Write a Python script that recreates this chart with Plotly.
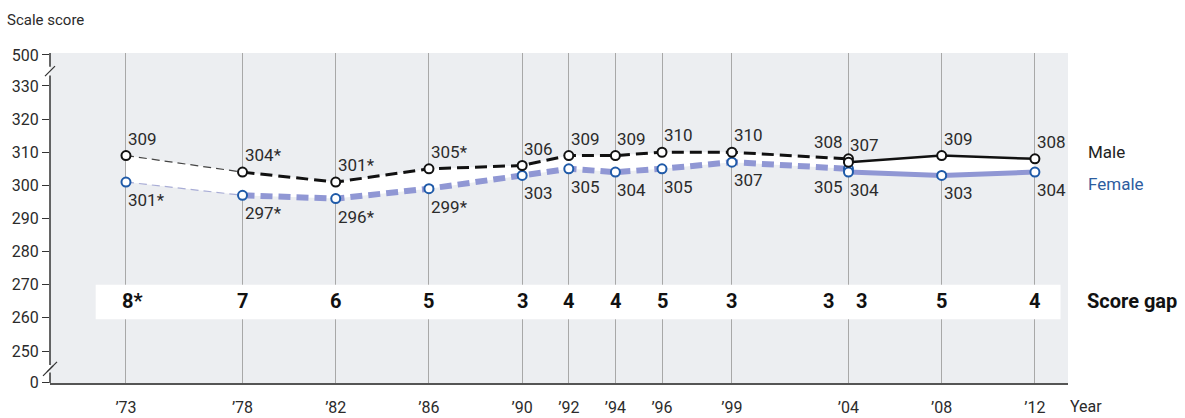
import plotly.graph_objects as go

# ---------------- data ----------------
years = [1973, 1978, 1982, 1986, 1990, 1992, 1994, 1996, 1999, 2004, 2004, 2008, 2012]
male = [309, 304, 301, 305, 306, 309, 309, 310, 310, 308, 307, 309, 308]
female = [301, 297, 296, 299, 303, 305, 304, 305, 307, 305, 304, 303, 304]
male_labels = ["309", "304*", "301*", "305*", "306", "309", "309", "310", "310", "308", "307", "309", "308"]
female_labels = ["301*", "297*", "296*", "299*", "303", "305", "304", "305", "307", "305", "304", "303", "304"]
gap_labels = ["8*", "7", "6", "5", "3", "4", "4", "5", "3", "3", "3", "5", "4"]
tick_years = [1973, 1978, 1982, 1986, 1990, 1992, 1994, 1996, 1999, 2004, 2008, 2012]
tick_year_text = ["’73", "’78", "’82", "’86", "’90", "’92", "’94", "’96", "’99", "’04", "’08", "’12"]
y_tick_text = ["0", "250", "260", "270", "280", "290", "300", "310", "320", "330", "500"]
y_tick_vals = [240.4, 250, 260, 270, 280, 290, 300, 310, 320, 330, 339.36]

FONT = "Roboto, Liberation Sans, sans-serif"
TXT = "#2b2b2b"
MALE_C = "#111111"
FEM_LINE = "#9097d4"
FEM_MK = "#1f5aa8"
FEM_TXT = "#2d5d9f"
BG = "#eceef1"

fig = go.Figure()

# white fill between the lines
fig.add_trace(go.Scatter(x=years, y=male, mode="lines", line=dict(width=0, color="rgba(0,0,0,0)"),
                         hoverinfo="skip", showlegend=False))
fig.add_trace(go.Scatter(x=years, y=female, mode="lines", line=dict(width=0, color="rgba(0,0,0,0)"),
                         fill="tonexty", fillcolor="white", hoverinfo="skip", showlegend=False))

# segments: 0-1 thin dashed, 1-9 thick dashed, 10-12 solid
segs = [(0, 2), (1, 10), (10, 13)]
fem_styles = [dict(color="#a9add6", width=1.2, dash="8px,5px"),
              dict(color=FEM_LINE, width=6, dash="12px,6px"),
              dict(color=FEM_LINE, width=5)]
male_styles = [dict(color="#444444", width=1.2, dash="8px,5px"),
               dict(color=MALE_C, width=3, dash="12px,6px"),
               dict(color=MALE_C, width=2.5)]
for (a, b), st in zip(segs, fem_styles):
    fig.add_trace(go.Scatter(x=years[a:b], y=female[a:b], mode="lines", line=st,
                             hoverinfo="skip", showlegend=False))
for (a, b), st in zip(segs, male_styles):
    fig.add_trace(go.Scatter(x=years[a:b], y=male[a:b], mode="lines", line=st,
                             hoverinfo="skip", showlegend=False))

# markers
fig.add_trace(go.Scatter(x=years, y=female, mode="markers",
                         marker=dict(size=9, color="white", line=dict(color=FEM_MK, width=2)),
                         showlegend=False))
fig.add_trace(go.Scatter(x=years, y=male, mode="markers",
                         marker=dict(size=9, color="white", line=dict(color=MALE_C, width=2)),
                         showlegend=False))

ann = []
for i, (x, m, f) in enumerate(zip(years, male, female)):
    left = (i == 9)
    ann.append(dict(x=x, y=m, xref="x", yref="y", text=male_labels[i], showarrow=False,
                    xanchor="right" if left else "left", yanchor="bottom",
                    xshift=-3 if left else 0, yshift=5,
                    font=dict(family=FONT, size=17, color=TXT)))
    ann.append(dict(x=x, y=f, xref="x", yref="y", text=female_labels[i], showarrow=False,
                    xanchor="right" if left else "left", yanchor="top",
                    xshift=-3 if left else 0, yshift=-6,
                    font=dict(family=FONT, size=17, color=TXT)))
    # score gap
    if i == 9:
        xa, xs = "center", -20
    elif i == 10:
        xa, xs = "center", 13
    elif gap_labels[i].endswith("*"):
        xa, xs = "left", -6
    else:
        xa, xs = "center", 0
    ann.append(dict(x=x, y=265, xref="x", yref="y", text="<b>%s</b>" % gap_labels[i], showarrow=False,
                    xanchor=xa, xshift=xs, yanchor="middle",
                    font=dict(family=FONT, size=20, color="#111111")))

PW = 1018.0
ann += [
    dict(x=(1086 - 50) / PW, y=310, xref="paper", yref="y", text="Male", showarrow=False,
         xanchor="left", yanchor="middle", font=dict(family=FONT, size=17, color="#222222")),
    dict(x=(1086 - 50) / PW, y=300.4, xref="paper", yref="y", text="Female", showarrow=False,
         xanchor="left", yanchor="middle", font=dict(family=FONT, size=17, color=FEM_TXT)),
    dict(x=(1085 - 50) / PW, y=265, xref="paper", yref="y", text="<b>Score gap</b>", showarrow=False,
         xanchor="left", yanchor="middle", font=dict(family=FONT, size=20, color="#111111")),
    dict(x=(1068 - 50) / PW, y=-23 / 330.0, xref="paper", yref="paper", text="Year", showarrow=False,
         xanchor="left", yanchor="middle", font=dict(family=FONT, size=16, color=TXT)),
    dict(x=(5 - 50) / PW, y=1 + 33 / 330.0, xref="paper", yref="paper", text="Scale score", showarrow=False,
         xanchor="left", yanchor="middle", font=dict(family=FONT, size=15, color=TXT)),
]

shapes = [
    # white score-gap band
    dict(type="rect", xref="x", yref="y", x0=1971.7, x1=2013.1, y0=259.6, y1=270,
         fillcolor="white", line=dict(width=0), layer="between"),
    # y axis line in segments (with breaks)
    dict(type="line", xref="paper", yref="y", x0=0, x1=0, y0=240.34, y1=243.5,
         line=dict(color="#333333", width=1.5)),
    dict(type="line", xref="paper", yref="y", x0=0, x1=0, y0=245.8, y1=333.2,
         line=dict(color="#333333", width=1.5)),
    dict(type="line", xref="paper", yref="y", x0=0, x1=0, y0=335.8, y1=339.96,
         line=dict(color="#333333", width=1.5)),
]
# break slashes
for yc, n in [(244.6, 2), (334.5, 1)]:
    for k in range(n):
        off = (k - (n - 1) / 2) * 4
        shapes.append(dict(type="line", xref="paper", yref="y", xsizemode="pixel", ysizemode="pixel",
                           xanchor=0, yanchor=yc, x0=-5 + off, x1=5 + off, y0=-5 + off, y1=5 + off,
                           line=dict(color="#333333", width=1.3)))

fig.update_layout(
    width=1185, height=418,
    margin=dict(l=50, r=117, t=53, b=35),
    paper_bgcolor="white", plot_bgcolor=BG,
    showlegend=False,
    annotations=ann, shapes=shapes,
    font=dict(family=FONT, color=TXT),
    xaxis=dict(range=[1969.74, 2013.42], tickvals=tick_years, ticktext=tick_year_text,
               showgrid=True, gridcolor="#a8a8a8", gridwidth=1, zeroline=False,
               showline=True, linecolor="#555555", linewidth=2, ticks="",
               ticklabelstandoff=9, automargin=False,
               tickfont=dict(family=FONT, size=16, color=TXT)),
    yaxis=dict(range=[240.34, 339.96], tickvals=y_tick_vals, ticktext=y_tick_text,
               showgrid=False, zeroline=False, showline=False, automargin=False,
               ticks="outside", ticklen=7, tickcolor="#333333", tickwidth=1.3,
               tickfont=dict(family=FONT, size=16, color=TXT)),
)

fig.write_html("out.html", config={"displayModeBar": False},
               post_script="document.body.style.margin='0px';document.body.style.overflow='hidden';")
